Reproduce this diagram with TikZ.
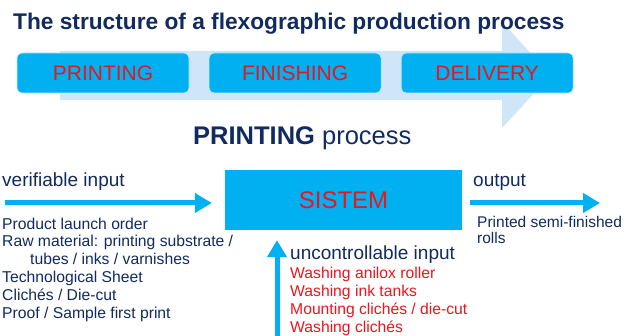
\documentclass[tikz,border=0pt]{standalone}
\usepackage{fontspec}
\setmainfont{Liberation Sans}
\usetikzlibrary{arrows.meta, positioning, calc}
\definecolor{navy}{HTML}{112A60}
\definecolor{cyanbox}{HTML}{00B0F0}
\definecolor{paleblue}{HTML}{CFE5F8}
\definecolor{redtext}{HTML}{E8161E}

\begin{document}
\begin{tikzpicture}[
    x=1pt, y=-1pt,
    stage/.style={rectangle, rounded corners=5pt, fill=cyanbox, draw=white!75!cyanbox, line width=0.6pt, minimum width=172pt, minimum height=40pt, text=redtext, font=\fontsize{21}{25}\selectfont},
    flowtext/.style={anchor=base west, inner sep=0pt, text=navy, font=\fontsize{19}{23}\selectfont},
    itemlist/.style={anchor=north west, inner sep=0pt, align=left, font=\fontsize{15.7}{17.8}\selectfont},
    arrow/.style={draw=cyanbox, line width=5pt, -{Triangle[length=17pt, width=19pt]}}
]
\useasboundingbox (0,0) rectangle (626,336);

% Background arrow
\fill[paleblue] (60,51) -- (502,51) -- (502,22) -- (551,75) -- (502,128) -- (502,100) -- (60,100) -- cycle;

% Title
\node[anchor=base west, inner sep=0pt, text=navy, font=\bfseries\fontsize{22.7}{27}\selectfont] (title) at (13,30) {The structure of a flexographic production process};

% Stages
\node[stage] (printing) at (103,73) {PRINTING};
\node[stage, right=19.5pt of printing] (finishing) {FINISHING};
\node[stage, right=19.5pt of finishing] (delivery) {DELIVERY};

% Process heading
\node[flowtext, font=\fontsize{25.5}{30}\selectfont] (heading) at (193,145) {\textbf{PRINTING} process};

% System
\node[rectangle, fill=cyanbox, minimum width=237pt, minimum height=60pt, text=redtext, font=\fontsize{24}{28}\selectfont] (sistem) at (343.5,200) {SISTEM};

% Verifiable input
\node[flowtext] (verif) at (2,187) {verifiable input};
\coordinate (vstart) at (5,203);
\draw[arrow, shorten >=13pt] (vstart) -- (vstart -| sistem.west);
\node[itemlist, text=navy] (verifitems) at (2,217.6) {Product launch order\\Raw material: printing substrate /\\\hspace*{28pt}tubes / inks / varnishes\\Technological Sheet\\Clichés / Die-cut\\Proof / Sample first print};

% Output
\node[flowtext] (outlabel) at (473,187) {output};
\coordinate (oend) at (600,203);
\draw[arrow, shorten <=8pt] (sistem.east |- oend) -- (oend);
\node[itemlist, text=navy, font=\fontsize{15.5}{16}\selectfont] (outitems) at (477,215.7) {Printed semi-finished\\rolls};

% Uncontrollable input
\coordinate (ustart) at (277,336);
\draw[arrow, shorten >=10pt] (ustart) -- (ustart |- sistem.south);
\node[flowtext] (uncontr) at (290,260) {uncontrollable input};
\node[itemlist, text=redtext, font=\fontsize{15.7}{18}\selectfont] (uncitems) at (290,266.6) {Washing anilox roller\\Washing ink tanks\\Mounting clichés / die-cut\\Washing clichés};

\end{tikzpicture}
\end{document}
